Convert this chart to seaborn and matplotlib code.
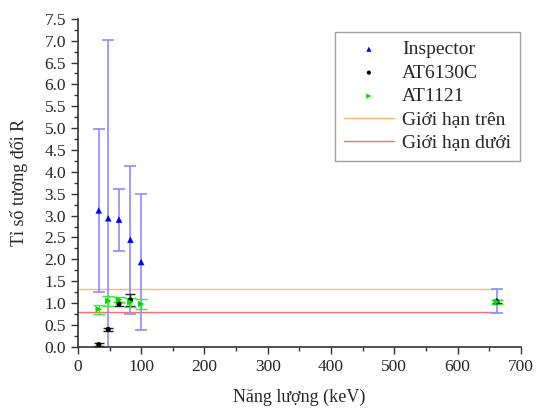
import matplotlib
matplotlib.use("Agg")
import matplotlib.pyplot as plt
import seaborn as sns
import pandas as pd
from matplotlib.ticker import MultipleLocator

# Data
insp_e = [33, 48, 65, 83, 100, 662]
insp_r = [3.12, 2.94, 2.91, 2.45, 1.94, 1.05]
insp_err = [1.87, 4.07, 0.71, 1.69, 1.56, 0.27]

at6130_e = [33, 48, 65, 83, 662]
at6130_r = [0.05, 0.40, 0.98, 1.07, 1.03]
at6130_err = [0.03, 0.04, 0.04, 0.13, 0.03]

at1121_e = [33, 48, 65, 83, 100, 662]
at1121_r = [0.86, 1.05, 1.08, 1.02, 0.98, 1.03]
at1121_err = [0.10, 0.12, 0.06, 0.10, 0.11, 0.04]

limit_x = [0, 662]
upper_limit = [1.33, 1.33]
lower_limit = [0.80, 0.80]

sns.set_style("ticks")
plt.rcParams['font.family'] = ['Liberation Serif', 'DejaVu Serif']

fig = plt.figure(figsize=(5.37, 4.09), dpi=100)
ax = fig.add_axes([0.145, 0.152, 0.825, 0.802])

df_up = pd.DataFrame({"x": limit_x, "y": upper_limit})
df_lo = pd.DataFrame({"x": limit_x, "y": lower_limit})
sns.lineplot(data=df_up, x="x", y="y", ax=ax, color="#ffb570", lw=1.0, label="Giới hạn trên", zorder=1)
sns.lineplot(data=df_lo, x="x", y="y", ax=ax, color="#ff6b6b", lw=1.0, label="Giới hạn dưới", zorder=1)

ax.errorbar(insp_e, insp_r, yerr=insp_err, fmt="none", ecolor="#8c8cff", elinewidth=1.2, capsize=4, capthick=1.2, zorder=2)
ax.errorbar(at6130_e, at6130_r, yerr=at6130_err, fmt="none", ecolor="#202020", elinewidth=1.0, capsize=3.5, capthick=1.0, zorder=3)
ax.errorbar(at1121_e, at1121_r, yerr=at1121_err, fmt="none", ecolor="#33ee33", elinewidth=1.0, capsize=4, capthick=1.0, zorder=4)

sns.scatterplot(x=insp_e, y=insp_r, ax=ax, marker="^", color="#0000ff", s=22, edgecolor="none", label="Inspector", zorder=5)
sns.scatterplot(x=at6130_e, y=at6130_r, ax=ax, marker="o", color="#000000", s=14, edgecolor="none", label="AT6130C", zorder=6)
sns.scatterplot(x=at1121_e, y=at1121_r, ax=ax, marker=">", color="#00dd00", s=22, edgecolor="none", label="AT1121", zorder=7)

ax.set_xlim(0, 700)
ax.set_ylim(0, 7.5)
ax.xaxis.set_major_locator(MultipleLocator(100))
ax.xaxis.set_minor_locator(MultipleLocator(50))
ax.yaxis.set_major_locator(MultipleLocator(0.5))
ax.yaxis.set_minor_locator(MultipleLocator(0.25))
ax.yaxis.set_major_formatter(matplotlib.ticker.FormatStrFormatter("%.1f"))
ax.tick_params(axis="both", which="major", direction="out", length=5, width=1, labelsize=12.5, color="#333333")
ax.tick_params(axis="both", which="minor", direction="out", length=3, width=1, color="#333333")
sns.despine(ax=ax)
for sp in ["left", "bottom"]:
    ax.spines[sp].set_linewidth(1.2)
    ax.spines[sp].set_color("#333333")

ax.set_xlabel("Năng lượng (keV)", fontsize=13, labelpad=10)
ax.set_ylabel("Tỉ số tương đối R", fontsize=13, labelpad=12)

handles, labels = ax.get_legend_handles_labels()
order = ["Inspector", "AT6130C", "AT1121", "Giới hạn trên", "Giới hạn dưới"]
hmap = dict(zip(labels, handles))
leg = ax.legend([hmap[l] for l in order], order, loc="upper left", bbox_to_anchor=(0.58, 0.96),
                borderaxespad=0, fontsize=14, frameon=True, fancybox=False, edgecolor="#888888",
                handlelength=2.6, handletextpad=0.4, labelspacing=0.3, borderpad=0.45, markerscale=0.8)
leg.get_frame().set_linewidth(1.0)

fig.savefig("out.png", dpi=100)
